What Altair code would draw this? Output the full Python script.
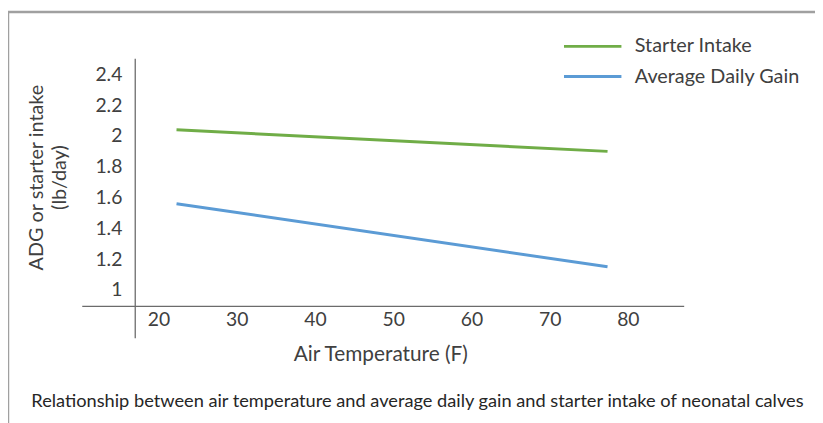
import altair as alt
import pandas as pd

# ---- data ----
temps = [22.3, 77.4]
starter_intake = [2.04, 1.90]
avg_daily_gain = [1.56, 1.15]
series_names = ["Starter Intake", "Average Daily Gain"]
series_colors = ["#70AD47", "#5B9BD5"]
x_tick_values = [20, 30, 40, 50, 60, 70, 80]
y_tick_values = [1, 1.2, 1.4, 1.6, 1.8, 2, 2.2, 2.4]
caption = ["Relationship between air temperature and average daily gain "
           "and starter intake of neonatal calves"]

# axis geometry (Excel style crossing axes)
x_domain = [16.96, 87.34]
y_domain = [0.689, 2.505]
x_axis_span = [10.25, 87.2]
x_axis_cross_y = 0.893

FONT = "Lato"
TXT = "#404040"

rows = []
for t, s, a in zip(temps, starter_intake, avg_daily_gain):
    rows.append({"temp": t, "value": s, "series": series_names[0]})
    rows.append({"temp": t, "value": a, "series": series_names[1]})
df = pd.DataFrame(rows)

xs = alt.Scale(domain=x_domain, nice=False, zero=False)
ys = alt.Scale(domain=y_domain, nice=False, zero=False)

lines = alt.Chart(df).mark_line(strokeWidth=3, strokeCap="butt").encode(
    x=alt.X("temp:Q", scale=xs,
            axis=alt.Axis(values=x_tick_values, offset=-31.7, domain=False, ticks=False,
                          grid=False, labelPadding=4, labelFont=FONT, labelFontSize=19.5,
                          labelColor=TXT, title="Air Temperature (F)", titleFont=FONT,
                          titleFontSize=21, titleFontWeight="normal", titleColor=TXT,
                          titleX=248, titleY=55, titleBaseline="alphabetic")),
    y=alt.Y("value:Q", scale=ys,
            axis=alt.Axis(values=y_tick_values, format="~g", domain=True,
                          domainColor="#6b6b6b", domainWidth=1.3, ticks=False, grid=False,
                          labelPadding=13, labelFont=FONT, labelFontSize=19.5, labelColor=TXT,
                          title=["ADG or starter intake", "(lb/day)"], titleFont=FONT,
                          titleFontSize=20, titleFontWeight="normal", titleColor=TXT,
                          titleLineHeight=24, titleX=-89.5, titleY=120, titleAngle=270,
                          titleAlign="center", titleBaseline="bottom")),
    color=alt.Color("series:N",
                    scale=alt.Scale(domain=series_names, range=series_colors),
                    legend=alt.Legend(orient="none", legendX=451, legendY=-23.5, title=None,
                                      symbolType="M-2.9,0H2.9", symbolSize=400,
                                      symbolStrokeWidth=3, labelOffset=31, rowPadding=8.5,
                                      labelFont=FONT, labelFontSize=20, labelColor=TXT,
                                      labelLimit=0)),
)

axis_df = pd.DataFrame({"x": [x_axis_span[0]], "x2": [x_axis_span[1]], "y": [x_axis_cross_y]})
x_axis_line = alt.Chart(axis_df).mark_rule(color="#6b6b6b", strokeWidth=1.3).encode(
    x=alt.X("x:Q", scale=xs), x2="x2:Q", y=alt.Y("y:Q", scale=ys)
)

frame_top = alt.Chart(axis_df).mark_rule(color="#a0a0a0", strokeWidth=2.5).encode(
    x=alt.value(-128), x2=alt.value(720), y=alt.value(-46.7)
)
frame_left = alt.Chart(axis_df).mark_rule(color="#a0a0a0", strokeWidth=2.5).encode(
    x=alt.value(-128), y=alt.value(-46.7), y2=alt.value(370)
)

cap_df = pd.DataFrame({"text": caption})
caption_text = alt.Chart(cap_df).mark_text(
    align="left", baseline="middle", font=FONT, fontSize=18.4, color="#262626"
).encode(text="text:N", x=alt.value(-104.4), y=alt.value(346.3))

chart = alt.layer(frame_top, frame_left, x_axis_line, lines, caption_text).properties(
    width=556, height=282.3,
    padding={"left": 128, "top": 48.7, "right": 131, "bottom": 84},
    autosize="none",
    background="white",
).configure_view(stroke=None, strokeWidth=0)

chart.save("out.html", embed_options={"renderer": "svg", "actions": False})
